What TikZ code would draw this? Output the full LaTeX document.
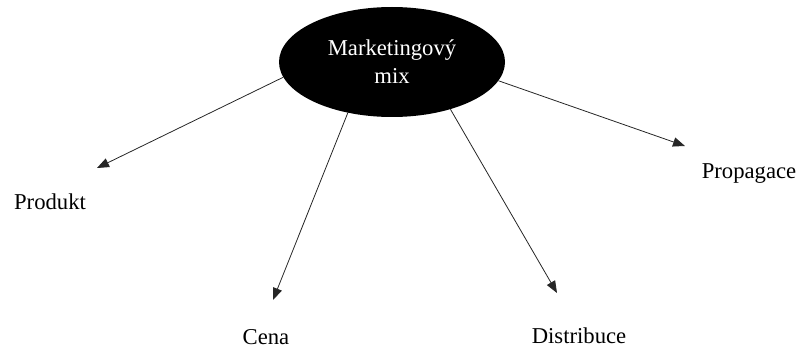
\documentclass[tikz,border=0pt]{standalone}
\usepackage{fontspec}
\setmainfont{Liberation Serif}
\usetikzlibrary{arrows.meta,shapes.geometric}

\tikzset{
  mixnode/.style={ellipse, fill=black, text=white, align=center, inner sep=0pt,
    minimum width=169.5pt, minimum height=82.5pt, font=\fontsize{17}{21}\selectfont},
  part/.style={inner sep=0.75pt, font=\fontsize{17}{20}\selectfont},
  toarr/.style={draw=black!85, line width=0.6pt, -{Triangle[length=9pt,width=7pt]}}
}

\begin{document}
\begin{tikzpicture}[x=0.75pt,y=0.75pt,yscale=-1,xscale=1]
\useasboundingbox (0,0) rectangle (798,349);

% Ellipse
\node [mixnode] (mix) at (392,62) {Marketingový\\mix};

% Text Nodes
\node [part] (produkt) at (50,202) {Produkt};
\node [part] (cena) at (266,337) {Cena};
\node [part] (distribuce) at (579,336) {Distribuce};
\node [part] (propagace) at (749,174) {Propagace};

% Arrow ends
\coordinate (pend) at (97,168);
\coordinate (cend) at (273,300);
\coordinate (dend) at (557,293);
\coordinate (rend) at (685,146);

% Straight Lines
\draw [toarr] (mix.188) -- (pend);
\draw [toarr] (mix.229) -- (cend);
\draw [toarr] (mix.321) -- (dend);
\draw [toarr] (mix.350) -- (rend);

\end{tikzpicture}
\end{document}
